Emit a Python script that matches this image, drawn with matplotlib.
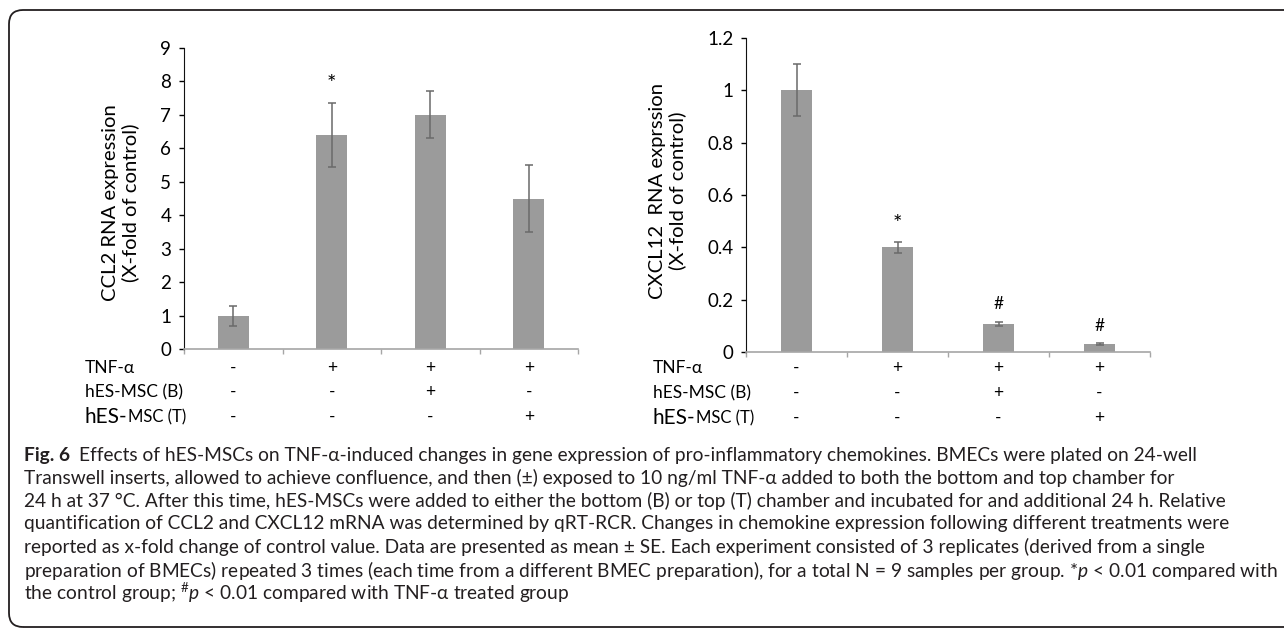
import matplotlib
matplotlib.use("Agg")
import matplotlib.pyplot as plt
import numpy as np
from matplotlib.patches import FancyBboxPatch
from matplotlib.transforms import IdentityTransform, blended_transform_factory

W, H = 1284, 630

# values (mean +/- SE)
ccl2_mean = [1.0, 6.4, 7.0, 4.5]
ccl2_se = [0.3, 0.97, 0.7, 1.0]
ccl2_marks = ["", "*", "", ""]
ccl2_ticks = [0, 1, 2, 3, 4, 5, 6, 7, 8, 9]
ccl2_ticklabels = ["0", "1", "2", "3", "4", "5", "6", "7", "8", "9"]

cxcl12_mean = [1.0, 0.40, 0.107, 0.031]
cxcl12_se = [0.10, 0.02, 0.008, 0.003]
cxcl12_marks = ["", "*", "#", "#"]
cxcl12_ticks = [0, 0.2, 0.4, 0.6, 0.8, 1.0, 1.2]
cxcl12_ticklabels = ["0", "0.2", "0.4", "0.6", "0.8", "1", "1.2"]

# treatment table under the bars
tnf = ["-", "+", "+", "+"]
msc_b = ["-", "-", "+", "-"]
msc_t = ["-", "-", "-", "+"]

caption_head = "Fig. 6"
caption = [
    "Effects of hES-MSCs on TNF-\u03b1-induced changes in gene expression of pro-inflammatory chemokines. BMECs were plated on 24-well",
    "Transwell inserts, allowed to achieve confluence, and then (\u00b1) exposed to 10 ng/ml TNF-\u03b1 added to both the bottom and top chamber for",
    "24 h at 37 \u00b0C. After this time, hES-MSCs were added to either the bottom (B) or top (T) chamber and incubated for and additional 24 h. Relative",
    "quantification of CCL2 and CXCL12 mRNA was determined by qRT-RCR. Changes in chemokine expression following different treatments were",
    "reported as x-fold change of control value. Data are presented as mean \u00b1 SE. Each experiment consisted of 3 replicates (derived from a single",
    "preparation of BMECs) repeated 3 times (each time from a different BMEC preparation), for a total N = 9 samples per group. *$p$ < 0.01 compared with",
    "the control group; ${}^{\\#}p$ < 0.01 compared with TNF-\u03b1 treated group",
]

BAR = "#9b9b9b"
ERR = "#6a6a6a"
AXGRAY = "#a6a6a6"
CHART_FONT = ["Lato", "DejaVu Sans"]
CAP_FONT = ["Lato", "DejaVu Sans"]

plt.rcParams["font.family"] = CHART_FONT
plt.rcParams["mathtext.fontset"] = "custom"
plt.rcParams["mathtext.rm"] = "Lato"
plt.rcParams["mathtext.it"] = "Lato:italic"

fig = plt.figure(figsize=(W / 100, H / 100), dpi=100)
renderer = fig.canvas.get_renderer()


def rect(x0, y0, x1, y1):
    # pixel box (top-left origin) -> figure fraction
    return [x0 / W, 1 - y1 / H, (x1 - x0) / W, (y1 - y0) / H]


def panel(box, mean, se, marks, ticks, ticklabels, ylabel, label_xy, names_x, row_y):
    ax = fig.add_axes(rect(*box))
    x = np.arange(len(mean)) + 0.5
    ax.bar(x, mean, width=0.31, color=BAR, zorder=2)
    ax.errorbar(x, mean, yerr=se, fmt="none", ecolor=ERR, elinewidth=1.1,
                capsize=3.2, capthick=1.1, zorder=3)
    for xi, m, s, mk in zip(x, mean, se, marks):
        if mk:
            ax.annotate(mk, (xi, m + s), xytext=(0, 9), textcoords="offset points",
                        ha="center", va="baseline", fontsize=16 if mk == "*" else 12.5)

    ax.set_xlim(0, len(mean))
    ax.set_ylim(ticks[0], ticks[-1])
    ax.set_yticks(ticks)
    ax.set_yticklabels(ticklabels)
    ax.set_xticks(np.arange(len(mean) + 1))
    ax.set_xticklabels([])
    ax.tick_params(axis="y", direction="out", length=3.6, width=1, pad=5.5, labelsize=13.5)
    ax.tick_params(axis="x", direction="out", length=3.6, width=1, color=AXGRAY)
    for side in ("top", "right"):
        ax.spines[side].set_visible(False)
    ax.spines["left"].set_color("#111111")
    ax.spines["bottom"].set_color(AXGRAY)
    ax.spines["bottom"].set_linewidth(1.2)

    fig.text(label_xy[0] / W, 1 - label_xy[1] / H, ylabel, rotation=90,
             ha="center", va="center", multialignment="center",
             fontsize=14.6, linespacing=1.15)

    tr = blended_transform_factory(ax.transData, fig.transFigure)
    for signs, yy in zip((tnf, msc_b, msc_t), row_y):
        for xi, sg in zip(x, signs):
            ax.text(xi, 1 - yy / H, sg, transform=tr, ha="center", va="center", fontsize=12.5)

    fig.text(names_x / W, 1 - row_y[0] / H, "TNF-\u03b1", ha="left", va="center", fontsize=12.5)
    fig.text(names_x / W, 1 - row_y[1] / H, "hES-MSC (B)", ha="left", va="center", fontsize=12.5)
    head = fig.text(names_x / W, 1 - row_y[2] / H, "hES-", ha="left", va="center", fontsize=15)
    bb = head.get_window_extent(renderer)
    fig.text(bb.x1 / W, 1 - row_y[2] / H, "MSC (T)", ha="left", va="center", fontsize=12)
    return ax


panel((184, 48, 578, 349), ccl2_mean, ccl2_se, ccl2_marks, ccl2_ticks, ccl2_ticklabels,
      "CCL2 RNA expression\n(X-fold of control)", (121, 203), 85, (368, 392, 417))
panel((746, 38, 1150, 352), cxcl12_mean, cxcl12_se, cxcl12_marks, cxcl12_ticks, cxcl12_ticklabels,
      "CXCL12  RNA exprssion\n(X-fold of control)", (668, 191), 653, (368, 393, 418))

# caption: size chosen so the longest line spans the box like in the figure
probe = fig.text(0, 0, caption[5], fontsize=12, family=CAP_FONT)
cap_size = 12 * (1276 - 23) / probe.get_window_extent(renderer).width
probe.remove()

cap_x, cap_y0, cap_dy = 24, 455, 23
head = fig.text(cap_x / W, 1 - cap_y0 / H, caption_head, fontsize=cap_size, weight="bold",
                family=CAP_FONT, color="#231f20", va="center")
hx = head.get_window_extent(renderer).x1 + 9
for i, line in enumerate(caption):
    x0 = hx if i == 0 else cap_x
    fig.text(x0 / W, 1 - (cap_y0 + i * cap_dy) / H, line, fontsize=cap_size,
             family=CAP_FONT, color="#231f20", va="center")

border = FancyBboxPatch((9, H - 627), 1320, 617, boxstyle="round,pad=0,rounding_size=14",
                        transform=IdentityTransform(), fill=False, lw=1.3, ec="#231f20")
fig.add_artist(border)

fig.savefig("out.png", dpi=100)
